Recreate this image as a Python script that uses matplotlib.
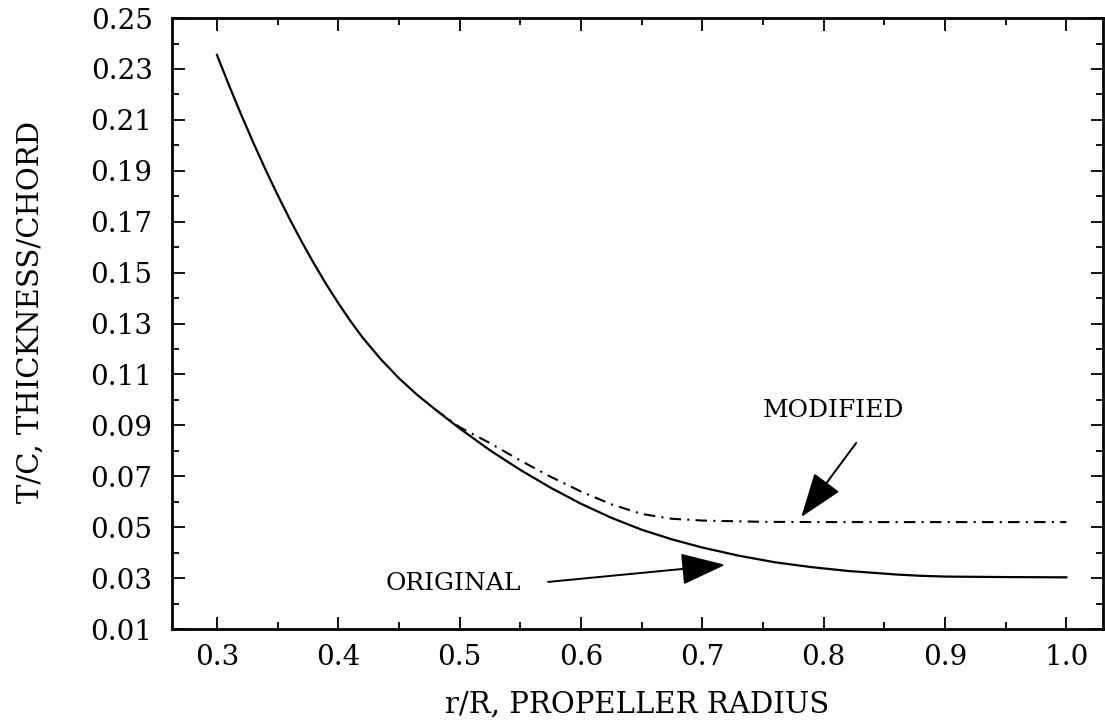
import matplotlib
matplotlib.use("Agg")
import matplotlib.pyplot as plt
from matplotlib.ticker import MultipleLocator, FormatStrFormatter

# blade thickness distributions
r_original = [0.30, 0.31, 0.32, 0.33, 0.34, 0.35, 0.36, 0.37, 0.38, 0.39,
              0.40, 0.41, 0.42, 0.435, 0.45, 0.465, 0.48, 0.50, 0.525, 0.55,
              0.575, 0.60, 0.625, 0.65, 0.675, 0.70, 0.73, 0.76, 0.79, 0.82,
              0.84, 0.86, 0.88, 0.90, 0.95, 1.00]
tc_original = [0.2355, 0.2235, 0.2120, 0.2010, 0.1905, 0.1805, 0.1710, 0.1620, 0.1535, 0.1455,
               0.1380, 0.1310, 0.1245, 0.1160, 0.1085, 0.1020, 0.0962, 0.0888, 0.0802, 0.0725,
               0.0655, 0.0592, 0.0537, 0.0490, 0.0452, 0.0420, 0.0388, 0.0362, 0.0343, 0.0328,
               0.0321, 0.0314, 0.0309, 0.0306, 0.0304, 0.0303]

r_modified = [0.48, 0.50, 0.525, 0.55, 0.575, 0.60, 0.625, 0.65, 0.675, 0.70,
              0.75, 0.80, 0.90, 1.00]
tc_modified = [0.0962, 0.0893, 0.0830, 0.0762, 0.0698, 0.0640, 0.0590, 0.0552, 0.0533, 0.0526,
               0.0521, 0.0520, 0.0520, 0.0520]

x_ticks = [0.3, 0.4, 0.5, 0.6, 0.7, 0.8, 0.9, 1.0]
y_ticks = [0.01, 0.03, 0.05, 0.07, 0.09, 0.11, 0.13, 0.15, 0.17, 0.19, 0.21, 0.23, 0.25]

plt.rcParams['font.family'] = ['DejaVu Serif']

fig = plt.figure(figsize=(11.05, 7.22), dpi=100)
ax = fig.add_axes([0.1557, 0.1288, 0.8423, 0.8462])

ax.plot(r_original, tc_original, color='black', lw=1.6)
ax.plot(r_modified, tc_modified, color='black', lw=1.5, linestyle=(0, (5.5, 3, 1, 3)))

ax.set_xlim(0.263, 1.03)
ax.set_ylim(0.01, 0.25)

ax.set_xticks(x_ticks)
ax.set_yticks(y_ticks)
ax.xaxis.set_minor_locator(MultipleLocator(0.05))
ax.yaxis.set_minor_locator(MultipleLocator(0.02))
ax.xaxis.set_major_formatter(FormatStrFormatter('%.1f'))
ax.yaxis.set_major_formatter(FormatStrFormatter('%.2f'))

ax.tick_params(which='both', direction='in', top=True, right=True, width=1.3)
ax.tick_params(which='major', length=9, labelsize=20)
ax.tick_params(which='minor', length=5)
ax.tick_params(axis='x', which='major', pad=11)
ax.tick_params(axis='y', which='major', pad=14)

for side in ax.spines.values():
    side.set_linewidth(2.0)

ax.set_xlabel('r/R, PROPELLER RADIUS', fontsize=21, labelpad=14)
ax.set_ylabel('T/C, THICKNESS/CHORD', fontsize=21)
ax.yaxis.set_label_coords(-0.137, 0.519)

arrow = dict(arrowstyle='-|>,head_length=1.4,head_width=0.5', color='black',
             lw=1.4, mutation_scale=20, shrinkA=0, shrinkB=0)
ax.annotate('', xy=(0.7815, 0.054), xytext=(0.8268, 0.0831), arrowprops=arrow)
ax.text(0.8078, 0.096, 'MODIFIED', fontsize=18, ha='center', va='center')
ax.annotate('', xy=(0.7188, 0.0352), xytext=(0.5729, 0.0285), arrowprops=arrow)
ax.text(0.4946, 0.0277, 'ORIGINAL', fontsize=18, ha='center', va='center')

fig.savefig('out.png', dpi=100)
